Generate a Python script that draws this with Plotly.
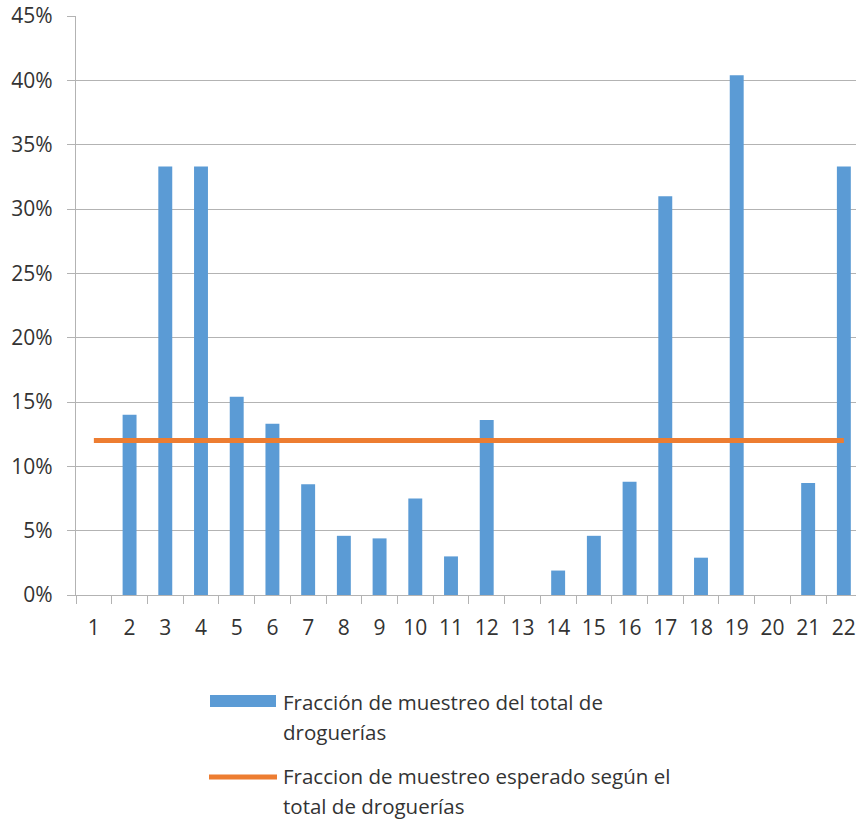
import plotly.graph_objects as go

categories = [str(i) for i in range(1, 23)]
sample_fraction = [0.0, 0.140, 0.333, 0.333, 0.154, 0.133, 0.086, 0.046, 0.044, 0.075, 0.030,
                   0.136, 0.0, 0.019, 0.046, 0.088, 0.310, 0.029, 0.404, 0.0, 0.087, 0.333]
expected_fraction = [0.12, 0.12, 0.12, 0.12, 0.12, 0.12, 0.12, 0.12, 0.12, 0.12, 0.12,
                     0.12, 0.12, 0.12, 0.12, 0.12, 0.12, 0.12, 0.12, 0.12, 0.12, 0.12]
legend_bar = ["Fracción de muestreo del total de", "droguerías"]
legend_line = ["Fraccion de muestreo esperado según el", "total de droguerías"]

BLUE = "#5b9bd5"
ORANGE = "#ed7d31"
GRID = "#b3b3b3"
TXT = "#333333"
FONT = "Open Sans"

W, H = 856, 822
ML, MR, MT = 76, 0, 16
PH = 579
MB = H - MT - PH
PW = W - ML - MR


def px(x):
    return (x - ML) / PW


def py(y):
    return (H - MB - y) / PH


fig = go.Figure()
fig.add_trace(go.Bar(x=categories, y=sample_fraction, marker=dict(color=BLUE, line=dict(width=0)),
                     name=" ".join(legend_bar), showlegend=False))
fig.add_trace(go.Scatter(x=categories, y=expected_fraction, mode="lines",
                         line=dict(color=ORANGE, width=5), name=" ".join(legend_line), showlegend=False))

# legend (drawn manually to match the wide keys)
fig.add_shape(type="rect", xref="paper", yref="paper", x0=px(210), x1=px(276), y0=py(707), y1=py(695),
              fillcolor=BLUE, line=dict(width=0))
fig.add_shape(type="line", xref="paper", yref="paper", x0=px(209), x1=px(277), y0=py(777), y1=py(777),
              line=dict(color=ORANGE, width=5))
for i, t in enumerate(legend_bar):
    fig.add_annotation(text=t, xref="paper", yref="paper", x=px(281), y=py(702 + 30 * i),
                       xanchor="left", yanchor="middle", showarrow=False,
                       font=dict(family=FONT, size=20.5, color=TXT))
for i, t in enumerate(legend_line):
    fig.add_annotation(text=t, xref="paper", yref="paper", x=px(281), y=py(776 + 30 * i),
                       xanchor="left", yanchor="middle", showarrow=False,
                       font=dict(family=FONT, size=20.5, color=TXT))

fig.update_layout(
    width=W, height=H, margin=dict(l=ML, r=MR, t=MT, b=MB, pad=0),
    paper_bgcolor="white", plot_bgcolor="white",
    bargap=0.61, showlegend=False,
    font=dict(family=FONT, size=21, color=TXT),
)
fig.update_xaxes(type="category", range=[-0.5, 21.34], showline=True, linecolor=GRID, linewidth=1.3,
                 ticks="outside", tickson="boundaries", ticklen=8, tickcolor=GRID, tickwidth=1.3,
                 showgrid=False, ticklabelstandoff=14, tickfont=dict(size=21, color=TXT))
fig.update_yaxes(range=[0, 0.45], dtick=0.05, tickformat=".0%", showgrid=True, gridcolor=GRID, gridwidth=1.3,
                 showline=True, linecolor=GRID, linewidth=1.3, ticks="outside", ticklen=8, tickcolor=GRID,
                 tickwidth=1.3, zeroline=False, ticklabelstandoff=10, ticklabeloverflow="allow",
                 tickfont=dict(size=21, color=TXT))

fig.write_html("out.html", config={"displayModeBar": False},
               post_script="document.body.style.margin='0';document.body.style.overflow='hidden';")
